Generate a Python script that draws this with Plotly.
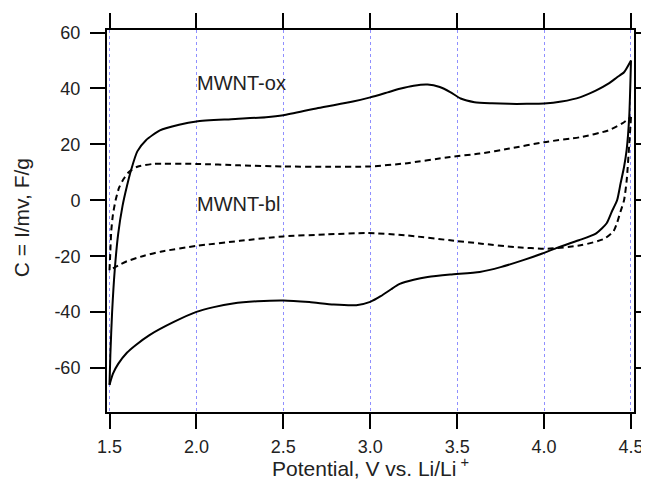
import plotly.graph_objects as go

# ---- data ----
# MWNT-ox (solid) anodic sweep 1.5 -> 4.5 V
ox_an_v = [1.5, 1.505, 1.515, 1.53, 1.55, 1.575, 1.6, 1.625, 1.66, 1.71, 1.79, 1.9, 2.0, 2.2, 2.4, 2.5,
           2.7, 2.9, 3.0, 3.1, 3.17, 3.25, 3.33, 3.4, 3.46, 3.52, 3.6, 3.7, 3.8, 3.9, 4.0, 4.1, 4.21,
           4.3, 4.37, 4.42, 4.46, 4.5]
ox_an_c = [-66, -55, -40, -25, -12, -2, 5, 11, 17.5, 21.5, 25, 27, 28.2, 29, 29.7, 30.4,
           33, 35.3, 36.8, 38.6, 39.9, 41, 41.4, 40.5, 38.7, 36.4, 35.1, 34.7, 34.5, 34.5, 34.6, 35.3, 36.9,
           39.3, 41.7, 44, 45.8, 50]
# MWNT-ox (solid) cathodic sweep 4.5 -> 1.5 V
ox_ca_v = [4.5, 4.49, 4.475, 4.46, 4.44, 4.42, 4.39, 4.36, 4.3, 4.2, 4.07, 3.99, 3.88, 3.75, 3.63,
           3.46, 3.33, 3.25, 3.17, 3.12, 3.06, 3.0, 2.92, 2.79, 2.65, 2.5, 2.35, 2.21, 2.1, 2.0, 1.87,
           1.73, 1.65, 1.6, 1.55, 1.52, 1.5]
ox_ca_c = [50, 30, 18, 11.9, 6, 0, -4, -8.2, -11.8, -14.3, -17.1, -19, -21.4, -23.9, -25.6,
           -26.5, -27.4, -28.4, -29.9, -31.8, -34.3, -36.3, -37.5, -37.3, -36.4, -35.8, -36.1, -36.9, -38.2, -39.9, -43.5,
           -48.2, -51.8, -54.5, -58.5, -62, -66]
# MWNT-bl (dashed) anodic sweep
bl_an_v = [1.5, 1.505, 1.51, 1.52, 1.535, 1.555, 1.58, 1.61, 1.66, 1.75, 2.0, 2.25, 2.5, 2.75, 3.0,
           3.2, 3.46, 3.63, 3.8, 4.0, 4.21, 4.37, 4.45, 4.5]
bl_an_c = [-25, -18, -11, -5, 0, 4.5, 7.5, 10, 12, 13, 13, 12.5, 12.1, 12, 12.1,
           13.2, 15.5, 16.7, 18.5, 20.8, 22.6, 25, 27.5, 29.8]
# MWNT-bl (dashed) cathodic sweep
bl_ca_v = [4.5, 4.49, 4.475, 4.46, 4.44, 4.42, 4.4, 4.345, 4.21, 4.02, 3.83, 3.64, 3.46, 3.2,
           2.98, 2.75, 2.5, 2.25, 2.0, 1.8, 1.7, 1.6, 1.55, 1.5]
bl_ca_c = [29.8, 20, 7, 0, -4, -8, -11, -13.8, -16.1, -17.3, -16.7, -15.5, -14.3, -12.5,
           -11.7, -12.2, -12.9, -14.5, -16.3, -18.3, -19.8, -21.8, -23.3, -25]

x_ticks = [1.5, 2.0, 2.5, 3.0, 3.5, 4.0, 4.5]
x_tick_labels = ["1.5", "2.0", "2.5", "3.0", "3.5", "4.0", "4.5"]
y_ticks = [60, 40, 20, 0, -20, -40, -60]
y_tick_labels = ["60", "40", "20", "0", "-20", "-40", "-60"]

FONT = "Liberation Sans, Arial, Helvetica, sans-serif"
TXT = "#222222"

fig = go.Figure()
for v, c, dash in [(ox_an_v, ox_an_c, "solid"), (ox_ca_v, ox_ca_c, "solid"),
                   (bl_an_v, bl_an_c, "6px,4px"), (bl_ca_v, bl_ca_c, "6px,4px")]:
    fig.add_trace(go.Scatter(x=v, y=c, mode="lines",
                             line=dict(color="black", width=2, dash=dash,
                                       shape="spline", smoothing=0.6),
                             showlegend=False, hoverinfo="skip"))

fig.add_annotation(x=1.99, y=41.8, text="MWNT-ox", showarrow=False, xanchor="left",
                   yanchor="middle", font=dict(family=FONT, size=20, color=TXT))
fig.add_annotation(x=1.99, y=-1.4, text="MWNT-bl", showarrow=False, xanchor="left",
                   yanchor="middle", font=dict(family=FONT, size=20, color=TXT))

# axis titles as paper-anchored annotations for exact placement
fig.add_annotation(xref="paper", yref="paper", x=0.5, y=-0.1832, xanchor="center",
                   yanchor="bottom", showarrow=False,
                   text="Potential, V vs. Li/Li<sup> +</sup>",
                   font=dict(family=FONT, size=21, color=TXT))
fig.add_annotation(xref="paper", yref="paper", x=-0.1632, y=0.51, xanchor="center",
                   yanchor="middle", showarrow=False, textangle=-90,
                   text="C = I/mv, F/g",
                   font=dict(family=FONT, size=21, color=TXT))

axis_common = dict(showline=True, linecolor="black", linewidth=2, mirror="allticks",
                   ticks="outside", ticklen=15, tickwidth=2, tickcolor="black",
                   zeroline=False, automargin=False,
                   tickfont=dict(family=FONT, size=18, color=TXT))

fig.update_xaxes(range=[1.4856, 4.5173], tickvals=x_ticks, ticktext=x_tick_labels,
                 showgrid=True, gridcolor="#8f8fff", griddash="dot", gridwidth=1,
                 ticklabelstandoff=2, **axis_common)
fig.update_yaxes(range=[-75.7, 60.9], tickvals=y_ticks, ticktext=y_tick_labels,
                 showgrid=False, ticklabelstandoff=6, **axis_common)

# the page body adds an 8px margin; the figure size/margins compensate for it
fig.update_layout(width=641, height=475, margin=dict(l=99, r=15, t=22, b=71),
                  plot_bgcolor="white", paper_bgcolor="white")

fig.write_html("out.html")
